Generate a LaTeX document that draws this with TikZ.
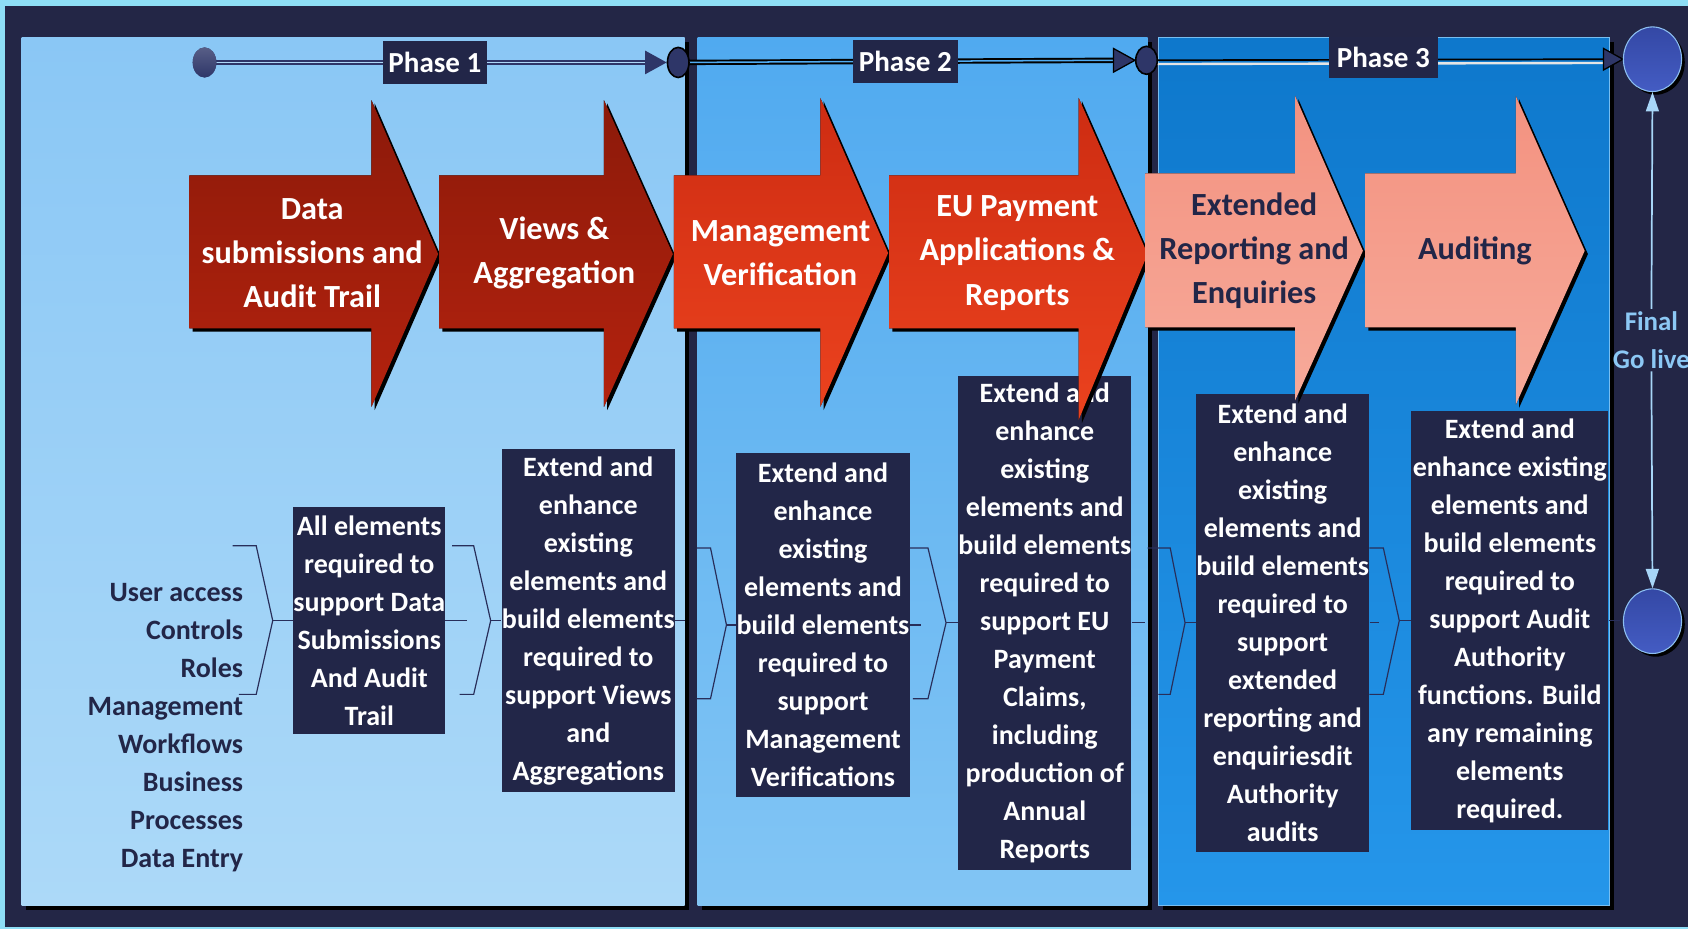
\documentclass[tikz,border=0pt]{standalone}
\usepackage{fontspec}
\setmainfont{Carlito}
\usetikzlibrary{arrows.meta,calc,shapes.geometric}
\definecolor{navy}{RGB}{35,38,70}
\definecolor{boxnavy}{RGB}{34,38,72}
\definecolor{cyanedge}{RGB}{142,222,246}
\definecolor{dotnavy}{RGB}{46,54,104}
\definecolor{brknavy}{RGB}{40,46,90}
\definecolor{golivetxt}{RGB}{140,200,245}
\definecolor{golivearrow}{RGB}{168,214,248}
\definecolor{pAtop}{RGB}{138,199,245}
\definecolor{pAbot}{RGB}{172,217,248}
\definecolor{pBtop}{RGB}{80,170,240}
\definecolor{pBbot}{RGB}{130,197,244}
\definecolor{pCtop}{RGB}{14,120,204}
\definecolor{pCbot}{RGB}{37,150,234}
\definecolor{pCedge}{RGB}{120,190,240}
\definecolor{redAtop}{RGB}{140,26,10}
\definecolor{redAbot}{RGB}{180,34,14}
\definecolor{redBtop}{RGB}{205,44,18}
\definecolor{redBbot}{RGB}{235,66,30}
\definecolor{salAtop}{RGB}{243,146,128}
\definecolor{salAbot}{RGB}{247,170,154}
\definecolor{finA}{RGB}{52,72,165}
\definecolor{finB}{RGB}{68,92,195}
\definecolor{finedge}{RGB}{140,190,240}
\newcommand\fntA{\bfseries\fontsize{30}{41}\selectfont}
\newcommand\fntB{\bfseries\fontsize{26}{35.3}\selectfont}
\newcommand\fntP{\bfseries\fontsize{27}{32}\selectfont}
\newcommand\blockarr[9]{%
  \fill[black,shift={(3,3)}] (#1,#6) -- (#2,#6) -- (#2,#4) -- (#3,#8) -- (#2,#5) -- (#2,#7) -- (#1,#7) -- cycle;
  \fill[#9] (#1,#6) -- (#2,#6) -- (#2,#4) -- (#3,#8) -- (#2,#5) -- (#2,#7) -- (#1,#7) -- cycle;
}
\pgfdeclarelayer{back}
\pgfdeclarelayer{lines}
\pgfsetlayers{back,lines,main}
\begin{document}
\begin{tikzpicture}[x=1pt,y=-1pt,
  tbox/.style={fill=boxnavy,text=white,font=\fntB,align=center,inner sep=0pt},
  atext/.style={font=\fntA,align=center,inner sep=0pt},
  brk/.style={draw=brknavy,line width=1.1pt},
  phase/.style={fill=boxnavy,text=white,font=\fntP,inner sep=0pt,minimum height=40,minimum width=96},
  dot/.style={ellipse,inner sep=0pt,fill=dotnavy},
  bigdot/.style={ellipse,inner sep=0pt,minimum width=54,minimum height=60,top color=finA,bottom color=finB,draw=finedge,line width=1pt},
  golink/.style={draw=golivearrow,line width=1.6pt,-{Triangle[length=18pt,width=12pt,fill=golivearrow]}},
  redA/.style={top color=redAtop,bottom color=redAbot},
  redB/.style={top color=redBtop,bottom color=redBbot},
  salA/.style={top color=salAtop,bottom color=salAbot},
]
\useasboundingbox (0,0) rectangle (1568,863);
\begin{pgfonlayer}{back}
\clip (0,0) rectangle (1568,863);
\fill[cyanedge] (0,0) rectangle (1568,863);
\fill[navy] (5,6) rectangle (1568,861);
% panels
\fill[black] (24,39) rectangle (640,845);
\fill[top color=pAtop,bottom color=pAbot] (20,35) rectangle (636,841);
\fill[black] (652,39) rectangle (1070,845);
\fill[top color=pBtop,bottom color=pBbot] (648,35) rectangle (1066,841);
\fill[black] (1080,39) rectangle (1499,845);
\fill[top color=pCtop,bottom color=pCbot,draw=pCedge,line width=1pt] (1076,35) rectangle (1495,841);
\end{pgfonlayer}

% timeline dots
\node[dot,minimum width=22,minimum height=28,top color=dotnavy!80!white,bottom color=dotnavy] (s0) at (190,58) {};
\node[dot,minimum width=20,minimum height=28,draw=black,line width=1.5pt] (p1) at (630,58) {};
\node[dot,minimum width=20,minimum height=26,draw=black,line width=1.5pt] (p2) at (1065,56) {};
\node[bigdot] (fin) at (1535,55) {};
\node[bigdot] (live) at (1535,577) {};

\begin{pgfonlayer}{lines}
\fill[black] ($(fin.center)+(3,3)$) ellipse [x radius=27,y radius=30];
\fill[black] ($(live.center)+(3,3)$) ellipse [x radius=27,y radius=30];
% phase 1 line
\draw[dotnavy,line width=5pt] (s0.center) -- ($(p1.west)+(-18,0)$);
\draw[pAtop!70!white,line width=1.4pt] (s0.center) -- ($(p1.west)+(-18,0)$);
\fill[dotnavy] (p1.west) -- ++(-20,-11) -- ++(0,22) -- cycle;
% phase 2 line
\draw[black,line width=5pt] (p1.center) -- ($(p2.west)+(-18,0)$);
\draw[pBtop,line width=1.4pt] (p1.center) -- ($(p2.west)+(-18,0)$);
\fill[dotnavy,draw=black,line width=1.2pt] (p2.west) -- ++(-20,-11) -- ++(0,22) -- cycle;
% phase 3 line
\draw[white!80!gray,line width=2.2pt] ($(p2.center)+(2,3.5)$) -- ($(fin.west)+(-14,3.5)$);
\draw[black,line width=1.6pt] (p2.center) -- ($(fin.west)+(-16,0)$);
\fill[dotnavy,draw=black,line width=1.2pt] (fin.west) -- ++(-18,-10) -- ++(0,20) -- cycle;
\end{pgfonlayer}

\node[phase] (ph1) at (404,58) {Phase 1};
\node[phase,minimum width=97] (ph2) at (841,57) {Phase 2};
\node[phase,minimum width=101,minimum height=38] (ph3) at (1285,53) {Phase 3};

% text boxes
\node[tbox,minimum width=140,minimum height=211] (A) at (343,576.5) {All elements\\required to\\support Data\\Submissions\\And Audit\\Trail};
\node[tbox,minimum width=161,minimum height=319] (B) at (546.5,576.5) {Extend and\\enhance\\existing\\elements and\\build elements\\required to\\support Views\\and\\Aggregations};
\node[tbox,minimum width=161,minimum height=319] (C) at (764.5,580.5) {Extend and\\enhance\\existing\\elements and\\build elements\\required to\\support\\Management\\Verifications};
\node[tbox,minimum width=161,minimum height=459] (D) at (970.5,578.5) {Extend and\\enhance\\existing\\elements and\\build elements\\required to\\support EU\\Payment\\Claims,\\including\\production of\\Annual\\Reports};
\node[tbox,minimum width=161,minimum height=425] (E) at (1191.5,578.5) {Extend and\\enhance\\existing\\elements and\\build elements\\required to\\support\\extended\\reporting and\\enquiriesdit\\Authority\\audits};
\node[tbox,minimum width=183,minimum height=389] (F) at (1402.5,576.5) {Extend and\\enhance existing\\elements and\\build elements\\required to\\support Audit\\Authority\\functions. Build\\any remaining\\elements\\required.};

% left list
\node[font=\fntB,text=boxnavy,align=right,anchor=east,inner sep=0pt] (list) at (226,676) {User access\\Controls\\Roles\\Management\\Workflows\\Business\\Processes\\Data Entry};

% brackets
\draw[brk] (216,507) -- (238,507) -- ($(A.west)+(-19,0)$) -- (238,645) -- (222,645);
\draw[brk] ($(A.west)+(-19,0)$) -- (A.west);
\draw[brk] (A.east) -- ++(20,0);
\draw[brk] (420,507) -- (440,507) -- ($(B.west)+(-10,0)$) -- (440,645) -- (427,645);
\draw[brk] ($(B.west)+(-10,0)$) -- (B.west);
\draw[brk] (B.east) -- ++(9,0);
\draw[brk] (647,509) -- (660,509) -- ($(C.west)+(-9,0)$) -- (660,649) -- (647,649);
\draw[brk] ($(C.west)+(-9,0)$) -- (C.west);
\draw[brk] (C.east) -- ++(10,0);
\draw[brk] (845,509) -- (862,509) -- ($(D.west)+(-11,0)$) -- (862,649) -- (848,649);
\draw[brk] ($(D.west)+(-11,0)$) -- (D.west);
\draw[brk] (D.east) -- ++(12,0);
\draw[brk] (1066,509) -- (1087,509) -- ($(E.west)+(-10,0)$) -- (1087,645) -- (1076,645);
\draw[brk] ($(E.west)+(-10,0)$) -- (E.west);
\draw[brk] (E.east) -- ++(9,0);
\draw[brk] (1272,509) -- (1285,509) -- ($(F.west)+(-11,0)$) -- (1285,645) -- (1272,645);
\draw[brk] ($(F.west)+(-11,0)$) -- (F.west);
\draw[brk] (F.east) -- ++(11,0);

% block arrows
\blockarr{176}{345}{407}{93}{378}{163}{305}{236}{redA}
\blockarr{408}{561}{625}{93}{378}{163}{305}{236}{redA}
\blockarr{626}{762}{825}{91}{378}{163}{305}{235}{redB}
\blockarr{826}{1002}{1066}{91}{390}{163}{305}{236}{redB}
\blockarr{1064}{1203}{1266}{89}{372}{161}{304}{233}{salA}
\blockarr{1268}{1408}{1472}{89}{376}{161}{304}{233}{salA}

\node[atext,text=white] (t1) at (290,235) {Data\\submissions and\\Audit Trail};
\node[atext,text=white] (t2) at (515,235) {Views \&\\Aggregation};
\node[atext,text=white] (t3) at (725,235) {Management\\Verification};
\node[atext,text=white] (t4) at (945,235) {EU Payment\\Applications \&\\Reports};
\node[atext,text=boxnavy] (t5) at (1165,233) {Extended\\Reporting and\\Enquiries};
\node[atext,text=boxnavy] (t6) at (1370,233) {Auditing};

% final go live
\node[font=\bfseries\fontsize{25}{36}\selectfont,text=golivetxt,align=center,inner sep=2pt] (gl) at (1534,316) {Final\\Go live};
\draw[golink] (gl.north) -- (fin.south);
\draw[golink] (gl.south) -- (live.north);
\end{tikzpicture}
\end{document}
